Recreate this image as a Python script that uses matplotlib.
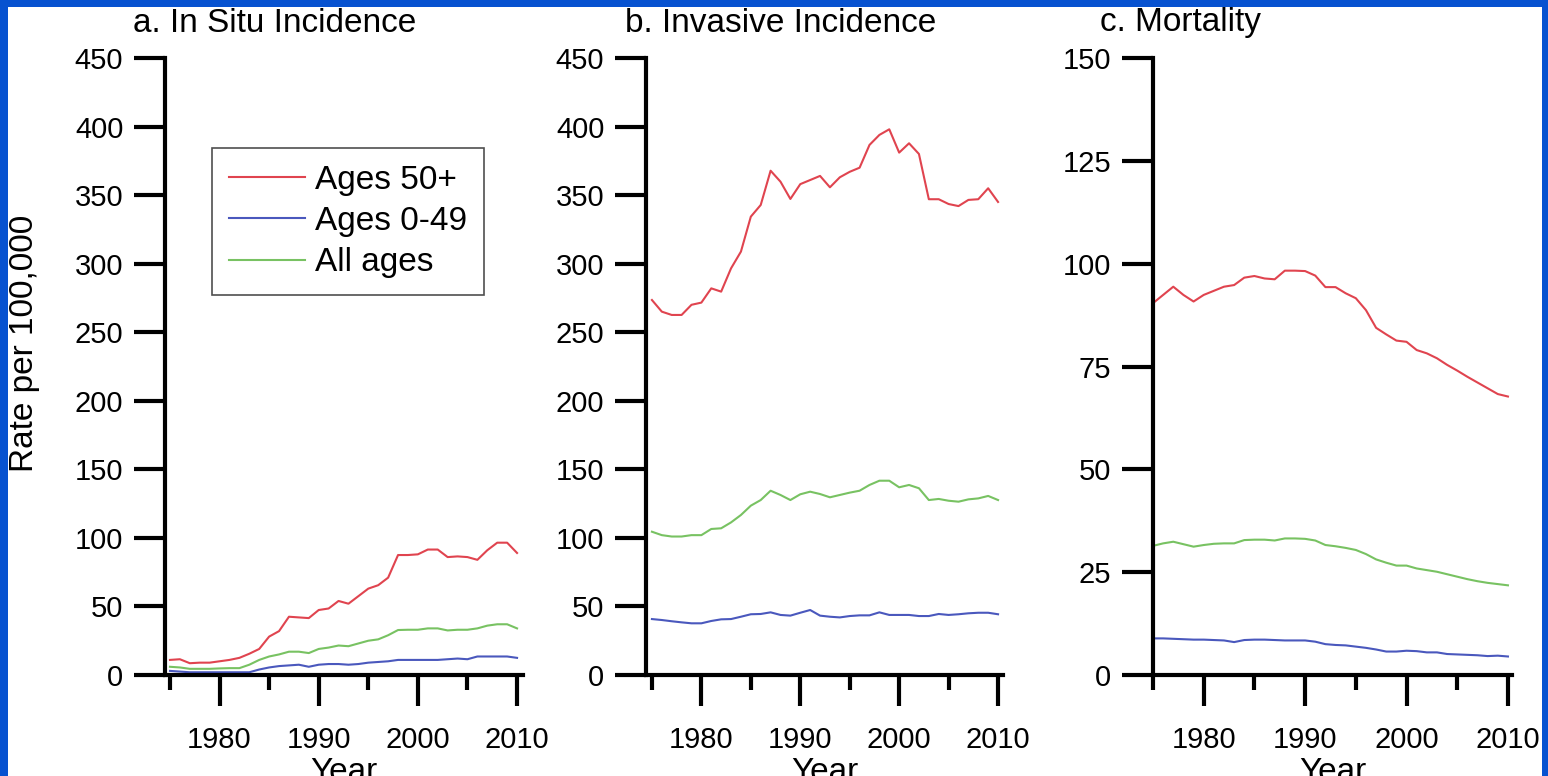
import matplotlib
matplotlib.use("Agg")
import matplotlib.pyplot as plt
from matplotlib.patches import Rectangle
from matplotlib.ticker import MultipleLocator, FixedLocator

plt.rcParams['font.family'] = ['Liberation Sans', 'DejaVu Sans']
TICK_SIZE = 21

years = list(range(1975, 2011))

# a. In Situ Incidence
insitu_50 = [11, 11.5, 8.6, 9, 9, 10, 11, 12.5, 15.5, 19, 28, 32, 42.5, 42, 41.5, 47.4, 48.5, 54,
             52, 57.5, 63, 65.5, 71, 87.5, 87.5, 88, 91.5, 91.5, 86, 86.5, 86, 84, 91, 96.5, 96.5, 89]
insitu_049 = [3, 2.5, 2, 2, 2, 2, 2, 2, 2, 4, 5.5, 6.5, 7, 7.5, 6, 7.5, 8, 8, 7.5, 8, 9, 9.5, 10,
              11, 11, 11, 11, 11, 11.5, 12, 11.5, 13.5, 13.5, 13.5, 13.5, 12.5]
insitu_all = [6, 5.5, 4.5, 4.5, 4.5, 4.8, 5, 5, 7.5, 11, 13.5, 15, 17, 17, 16, 19, 20, 21.5, 21, 23,
              25, 26, 29, 32.8, 33, 33, 34, 34, 32.5, 33, 33, 34, 36, 37, 37, 34]

# b. Invasive Incidence
inv_50 = [273.5, 265, 262.6, 262.6, 270, 271.6, 282, 279.6, 296.6, 308.8, 334.3, 342.8, 367.8, 359.8,
          347.2, 358, 361, 364, 355.7, 363, 367, 370, 386.6, 393.9, 398, 381, 387.8, 380, 347, 347,
          343.5, 342, 346.5, 347, 355, 345]
inv_049 = [40.8, 40.1, 39.2, 38.4, 37.7, 37.7, 39.4, 40.6, 40.8, 42.5, 44.3, 44.5, 45.7, 43.8, 43.3,
           45.4, 47.4, 43.3, 42.5, 42, 43, 43.5, 43.5, 45.7, 43.8, 43.8, 43.8, 43, 43, 44.5, 43.8,
           44.3, 45, 45.4, 45.4, 44.3]
inv_all = [104.5, 102, 101, 101, 102, 102, 106.5, 107, 111.3, 116.7, 123.5, 127.6, 134.4, 131.3, 127.6,
           131.8, 133.7, 132, 129.6, 131.3, 133, 134.4, 138.6, 141.7, 141.7, 136.9, 138.6, 136.2,
           127.6, 128.4, 127.1, 126.4, 128.1, 128.8, 130.6, 127.6]

# c. Mortality
mort_50 = [90.4, 92.4, 94.4, 92.4, 90.8, 92.4, 93.4, 94.4, 94.8, 96.6, 97, 96.4, 96.2, 98.3, 98.3,
           98.2, 97.1, 94.3, 94.3, 92.8, 91.6, 88.7, 84.4, 82.8, 81.3, 81, 79, 78.2, 77, 75.4, 74,
           72.5, 71.1, 69.7, 68.3, 67.7]
mort_049 = [8.9, 8.9, 8.8, 8.7, 8.6, 8.6, 8.5, 8.4, 8.0, 8.5, 8.6, 8.6, 8.5, 8.4, 8.4, 8.4, 8.1, 7.5,
            7.3, 7.2, 6.9, 6.6, 6.2, 5.7, 5.7, 5.9, 5.8, 5.5, 5.5, 5.1, 5.0, 4.9, 4.8, 4.6, 4.7, 4.5]
mort_all = [31.4, 32, 32.4, 31.8, 31.2, 31.6, 31.9, 32, 32, 32.8, 32.9, 32.9, 32.7, 33.2, 33.2, 33.1,
            32.7, 31.6, 31.3, 30.9, 30.4, 29.4, 28.1, 27.3, 26.6, 26.6, 25.9, 25.5, 25.1, 24.5, 23.9,
            23.3, 22.8, 22.4, 22.1, 21.8]

titles = ["a. In Situ Incidence", "b. Invasive Incidence", "c. Mortality"]
series_labels = ["Ages 50+", "Ages 0-49", "All ages"]
major_years = [1980, 1990, 2000, 2010]
minor_years = [1975, 1985, 1995, 2005]

RED = "#e0444f"
BLUE = "#4a58bd"
GREEN = "#78c262"
BG_BLUE = "#0752d0"

W, H = 1548, 776
fig = plt.figure(figsize=(W / 100, H / 100), dpi=100)
fig.patch.set_facecolor(BG_BLUE)
fig.patches.append(Rectangle((8 / W, 0), (1542 - 8) / W, (H - 7) / H, transform=fig.transFigure,
                             facecolor="white", edgecolor="none", zorder=-10))

def px_axes(l, r, t, b):
    return [l / W, (H - b) / H, (r - l) / W, (b - t) / H]

panels = [
    dict(rect=px_axes(165, 523, 58, 675), xlim=(1974.5, 2010.6), ylim=(0, 450), ystep=50,
         data=(insitu_50, insitu_049, insitu_all), title_x=133),
    dict(rect=px_axes(646, 1003, 58, 675), xlim=(1974.4, 2010.5), ylim=(0, 450), ystep=50,
         data=(inv_50, inv_049, inv_all), title_x=625),
    dict(rect=px_axes(1153, 1512, 58, 675), xlim=(1975, 2010.4), ylim=(0, 150), ystep=25,
         data=(mort_50, mort_049, mort_all), title_x=1100),
]

axes = []
for i, p in enumerate(panels):
    ax = fig.add_axes(p["rect"], zorder=1)
    ax.set_facecolor("none")
    lines = []
    for vals, col, lab in zip(p["data"], (RED, BLUE, GREEN), series_labels):
        ln, = ax.plot(years, vals, color=col, lw=1.5, label=lab, clip_on=False)
        lines.append(ln)
    ax.set_xlim(*p["xlim"])
    ax.set_ylim(*p["ylim"])
    ax.yaxis.set_major_locator(MultipleLocator(p["ystep"]))
    ax.xaxis.set_major_locator(FixedLocator(major_years))
    ax.xaxis.set_minor_locator(FixedLocator(minor_years))
    for s in ("top", "right"):
        ax.spines[s].set_visible(False)
    for s in ("left", "bottom"):
        ax.spines[s].set_linewidth(3)
        ax.spines[s].set_capstyle("projecting")
    ax.tick_params(axis="y", which="major", direction="out", length=22, width=3, pad=8,
                   labelsize=TICK_SIZE)
    ax.tick_params(axis="x", which="major", direction="out", length=22, width=3, pad=15,
                   labelsize=TICK_SIZE)
    ax.tick_params(axis="x", which="minor", direction="out", length=11, width=3)
    fig.text(p["title_x"] / W, 1 - 23 / H, titles[i], fontsize=24, ha="left", va="center")
    cx = (p["rect"][0] + p["rect"][2] / 2)
    fig.text(cx, 1 - 781 / H, "Year", fontsize=24, ha="center", va="baseline")
    axes.append((ax, lines))

fig.text(25 / W, 1 - 343 / H, "Rate per 100,000", fontsize=24, rotation=90, ha="center", va="center")

ax0, lines0 = axes[0]
leg = ax0.legend(handles=lines0, loc="upper left", bbox_to_anchor=(212 / W, 1 - 148 / H),
                 bbox_transform=fig.transFigure, borderaxespad=0, fontsize=24, frameon=True,
                 fancybox=False, edgecolor="#222222", handlelength=2.3, handletextpad=0.3,
                 borderpad=0.5, labelspacing=0.31)
leg.get_frame().set_linewidth(1.2)

fig.savefig("out.png", dpi=100, facecolor=fig.get_facecolor())
